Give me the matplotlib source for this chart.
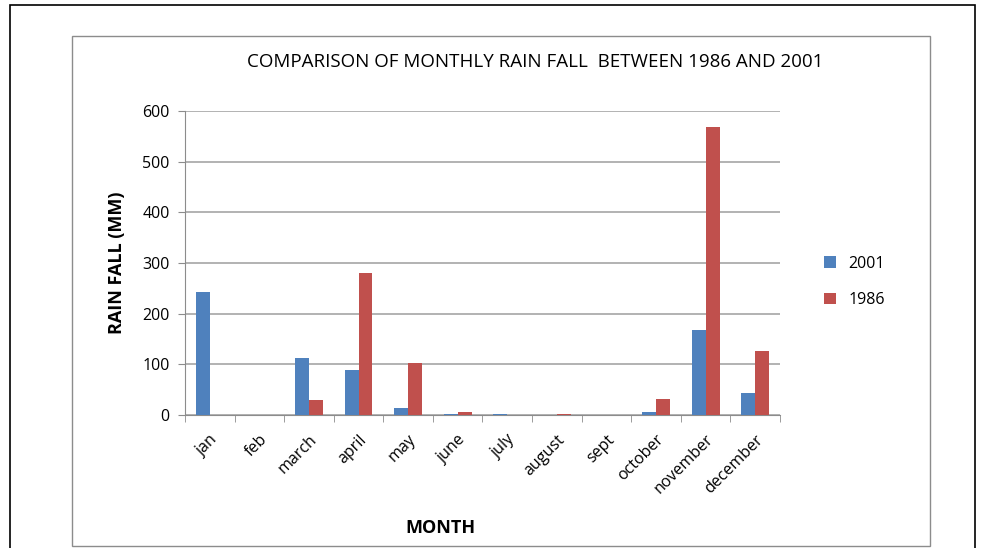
import matplotlib
matplotlib.use("Agg")
import matplotlib.pyplot as plt
from matplotlib.patches import Rectangle
import numpy as np

months = ["jan", "feb", "march", "april", "may", "june", "july", "august",
          "sept", "october", "november", "december"]
rain_2001 = [243, 0, 112, 88, 14, 2, 2, 0, 0, 6, 168, 43]
rain_1986 = [0, 0, 29, 281, 102, 6, 0, 2, 0, 32, 569, 127]

plt.rcParams["font.family"] = ["Open Sans", "DejaVu Sans"]

fig = plt.figure(figsize=(9.87, 5.48), dpi=100)
W, H = 987, 548

# outer frames
fig.patches.append(Rectangle((10 / W, -0.01), 965 / W, (548 - 5) / H + 0.01,
                             transform=fig.transFigure, fill=False,
                             edgecolor="black", linewidth=1.2))
fig.patches.append(Rectangle((72 / W, 2 / H), 858 / W, (548 - 36 - 2) / H,
                             transform=fig.transFigure, fill=False,
                             edgecolor="#8c8c8c", linewidth=1.0))

ax = fig.add_axes([185 / W, (548 - 415) / H, (780 - 185) / W, (415 - 111) / H])
x = np.arange(len(months))
w = 0.28
ax.bar(x - w / 2, rain_2001, w, color="#4F81BD", label="2001", zorder=3)
ax.bar(x + w / 2, rain_1986, w, color="#C0504D", label="1986", zorder=3)

ax.set_xlim(-0.5, len(months) - 0.5)
ax.set_ylim(0, 600)
ax.set_yticks(range(0, 601, 100))
ax.yaxis.grid(True, color="#a6a6a6", linewidth=1.2, zorder=0)
for s in ["top", "right"]:
    ax.spines[s].set_visible(False)
for s in ["left", "bottom"]:
    ax.spines[s].set_color("#8c8c8c")
ax.tick_params(axis="y", length=5, color="#8c8c8c", labelsize=11.5, pad=6)
ax.set_xticks(x)
ax.set_xticklabels(months, rotation=45, ha="right", rotation_mode="anchor",
                   fontsize=11.5)
ax.tick_params(axis="x", length=0, pad=12)
ax.set_xticks(np.arange(-0.5, len(months)), minor=True)
ax.tick_params(axis="x", which="minor", length=5, color="#8c8c8c")

ax.set_ylabel("RAIN FALL (MM)", fontsize=13, fontweight="bold", labelpad=12)
fig.text(440 / W, 1 - 528 / H, "MONTH", fontsize=13, fontweight="bold",
         ha="center", va="center")
fig.text(535 / W, 1 - 62 / H,
         "COMPARISON OF MONTHLY RAIN FALL  BETWEEN 1986 AND 2001",
         fontsize=13.5, ha="center", va="center")

ax.legend(loc="center left", bbox_to_anchor=(810 / W, 1 - 282 / H),
          bbox_transform=fig.transFigure, frameon=False, fontsize=11.5,
          handlelength=0.7, handleheight=0.7, labelspacing=1.3)

fig.savefig("out.png", dpi=100)
